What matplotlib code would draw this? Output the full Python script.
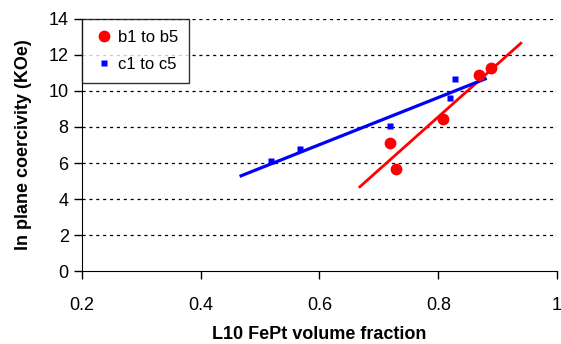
import matplotlib.pyplot as plt

plt.rcParams['font.family'] = ['Liberation Sans', 'DejaVu Sans']

# b series (red circles)
b_x = [0.719, 0.729, 0.808, 0.868, 0.889]
b_y = [7.13, 5.65, 8.44, 10.89, 11.26]
# c series (blue squares)
c_x = [0.518, 0.567, 0.719, 0.819, 0.828]
c_y = [6.11, 6.78, 8.07, 9.63, 10.65]

# linear trend lines, end points
b_fit_x = [0.668, 0.939]
b_fit_y = [4.68, 12.65]
c_fit_x = [0.468, 0.879]
c_fit_y = [5.29, 10.67]

x_ticks = [0.2, 0.4, 0.6, 0.8, 1.0]
x_labels = ["0.2", "0.4", "0.6", "0.8", "1"]
y_ticks = [0, 2, 4, 6, 8, 10, 12, 14]


def main():
    fig = plt.figure(figsize=(5.61, 3.44), dpi=100)
    ax = fig.add_axes([0.146, 0.212, 0.847, 0.733])

    for y in y_ticks[1:]:
        ax.axhline(y, color="black", lw=0.9, ls=(0, (2.5, 3)), zorder=0)

    ax.plot(b_fit_x, b_fit_y, color="#ff0000", lw=2, zorder=2)
    ax.plot(c_fit_x, c_fit_y, color="#0000ff", lw=2.3, zorder=2)
    ax.plot(b_x, b_y, "o", color="#ff0000", ms=8.5, mec="none", label="b1 to b5", zorder=3)
    ax.plot(c_x, c_y, "s", color="#0000ff", ms=5, mec="none", label="c1 to c5", zorder=3)

    ax.set_xlim(0.2, 1.0)
    ax.set_ylim(0, 14)
    ax.set_xticks(x_ticks)
    ax.set_xticklabels(x_labels)
    ax.set_yticks(y_ticks)
    ax.tick_params(labelsize=13, direction="out", length=5.5, width=1)
    ax.tick_params(axis="x", pad=13)
    ax.tick_params(axis="y", pad=4)

    ax.spines["top"].set_visible(False)
    ax.spines["right"].set_visible(False)

    ax.set_xlabel("L10 FePt volume fraction", fontsize=13, fontweight="bold", labelpad=9)
    ax.set_ylabel("In plane coercivity (KOe)", fontsize=13, fontweight="bold", labelpad=12)

    leg = ax.legend(loc="upper left", bbox_to_anchor=(0.0, 1.0), fontsize=12,
                    frameon=True, fancybox=False, edgecolor="black",
                    borderaxespad=0, handletextpad=0.2, handlelength=1.3,
                    borderpad=0.65, labelspacing=0.75)
    leg.get_frame().set_linewidth(1)

    fig.savefig("out.png", dpi=100)


if __name__ == '__main__':
    main()
